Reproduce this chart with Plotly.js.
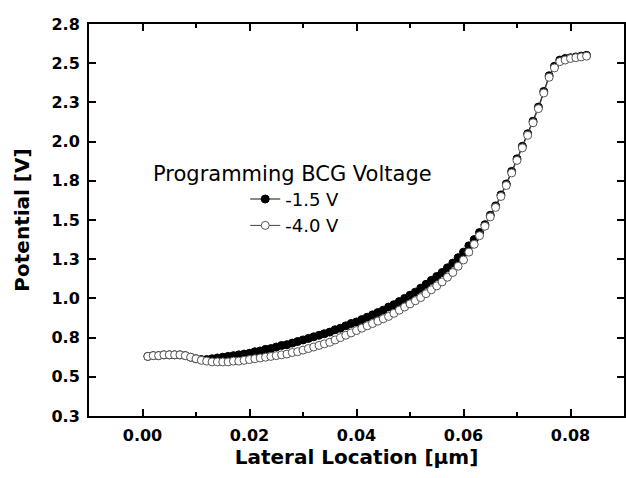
<!DOCTYPE html>
<html>
<head>
<meta charset="utf-8">
<script src="https://cdn.plot.ly/plotly-3.0.1.min.js"></script>
<style>html,body{margin:0;padding:0;background:#fff;}#chart{width:626px;height:478px;}</style>
</head>
<body>
<div id="chart"></div>
<script>
// Lateral location [um]
const xLoc = [0.001,0.002,0.003,0.004,0.005,0.006,0.007,0.008,0.009,0.010,
  0.011,0.012,0.013,0.014,0.015,0.016,0.017,0.018,0.019,0.020,
  0.021,0.022,0.023,0.024,0.025,0.026,0.027,0.028,0.029,0.030,
  0.031,0.032,0.033,0.034,0.035,0.036,0.037,0.038,0.039,0.040,
  0.041,0.042,0.043,0.044,0.045,0.046,0.047,0.048,0.049,0.050,
  0.051,0.052,0.053,0.054,0.055,0.056,0.057,0.058,0.059,0.060,
  0.061,0.062,0.063,0.064,0.065,0.066,0.067,0.068,0.069,0.070,
  0.071,0.072,0.073,0.074,0.075,0.076,0.077,0.078,0.079,0.080,
  0.081,0.082,0.083];
// Potential [V], programming BCG voltage -1.5 V
const vMinus15 = [0.63,0.635,0.635,0.64,0.64,0.64,0.64,0.635,0.625,0.615,
  0.61,0.61,0.615,0.62,0.625,0.63,0.635,0.64,0.645,0.65,
  0.66,0.665,0.675,0.68,0.69,0.70,0.705,0.715,0.725,0.735,
  0.745,0.755,0.765,0.775,0.785,0.80,0.81,0.825,0.84,0.85,
  0.865,0.88,0.895,0.91,0.925,0.945,0.96,0.98,1.00,1.02,
  1.04,1.065,1.09,1.115,1.14,1.165,1.195,1.225,1.26,1.295,
  1.335,1.375,1.42,1.47,1.53,1.59,1.66,1.73,1.81,1.89,
  1.97,2.05,2.13,2.22,2.32,2.42,2.48,2.52,2.53,2.535,
  2.54,2.545,2.55];
// Potential [V], programming BCG voltage -4.0 V
const vMinus40 = [0.63,0.635,0.635,0.64,0.64,0.64,0.64,0.635,0.625,0.615,
  0.605,0.60,0.595,0.595,0.595,0.595,0.60,0.60,0.605,0.61,
  0.615,0.62,0.625,0.63,0.635,0.64,0.645,0.655,0.66,0.67,
  0.68,0.69,0.70,0.71,0.72,0.735,0.75,0.765,0.78,0.795,
  0.81,0.825,0.84,0.855,0.87,0.885,0.905,0.925,0.945,0.965,
  0.985,1.005,1.03,1.055,1.08,1.105,1.135,1.165,1.205,1.245,
  1.295,1.345,1.40,1.46,1.52,1.58,1.65,1.72,1.80,1.88,
  1.96,2.04,2.12,2.21,2.31,2.41,2.47,2.51,2.52,2.53,
  2.535,2.54,2.545];
const seriesNames = ["-1.5 V", "-4.0 V"];
const legendTitle = "Programming BCG Voltage";
const yTickVals = [0.25,0.5,0.75,1.0,1.25,1.5,1.75,2.0,2.25,2.5,2.75];
const yTickText = ["0.3","0.5","0.8","1.0","1.3","1.5","1.8","2.0","2.3","2.5","2.8"];

const tickFont = {family: "DejaVu Sans", size: 16, color: "#000", weight: "bold"};
const titleFont = {family: "DejaVu Sans", size: 20, color: "#000", weight: "bold"};

const traces = [
  {x: xLoc, y: vMinus15, name: seriesNames[0], type: "scatter", mode: "lines+markers",
   line: {color: "#111", width: 1},
   marker: {symbol: "circle", size: 8, color: "#000", line: {color: "#000", width: 1}}},
  {x: xLoc, y: vMinus40, name: seriesNames[1], type: "scatter", mode: "lines+markers",
   line: {color: "#444", width: 1},
   marker: {symbol: "circle", size: 8, color: "#fff", line: {color: "#555", width: 1}}}
];

const layout = {
  width: 626, height: 478,
  margin: {l: 89, r: 2, t: 24, b: 62},
  paper_bgcolor: "#fff", plot_bgcolor: "#fff",
  showlegend: true,
  legend: {x: 0.292, y: 0.6, xanchor: "left", yanchor: "top", bgcolor: "rgba(0,0,0,0)",
           font: {family: "DejaVu Sans", size: 18, color: "#000"}, tracegroupgap: 0},
  xaxis: {
    range: [-0.01, 0.09], dtick: 0.02, tick0: 0, tickformat: ".2f",
    showgrid: false, zeroline: false, showline: true, linecolor: "#000", linewidth: 2,
    mirror: "ticks", ticks: "inside", ticklen: 7, tickwidth: 2, tickcolor: "#000",
    minor: {dtick: 0.01, ticks: "inside", ticklen: 4, tickwidth: 2, tickcolor: "#000"},
    tickfont: tickFont, ticklabelstandoff: 4,
    title: {text: "Lateral Location [μm]", font: titleFont, standoff: 4}
  },
  yaxis: {
    range: [0.25, 2.75], tickmode: "array", tickvals: yTickVals, ticktext: yTickText,
    showgrid: false, zeroline: false, showline: true, linecolor: "#000", linewidth: 2,
    mirror: "ticks", ticks: "inside", ticklen: 7, tickwidth: 2, tickcolor: "#000",
    tickfont: tickFont, ticklabelstandoff: 4,
    title: {text: "Potential [V]", font: titleFont, standoff: 16}
  },
  annotations: [{
    text: legendTitle, xref: "paper", yref: "paper", x: 0.116, y: 0.617,
    xanchor: "left", yanchor: "middle", showarrow: false,
    font: {family: "DejaVu Sans", size: 21, color: "#000"}
  }]
};

Plotly.newPlot("chart", traces, layout, {displayModeBar: false, staticPlot: true});
</script>
</body>
</html>
